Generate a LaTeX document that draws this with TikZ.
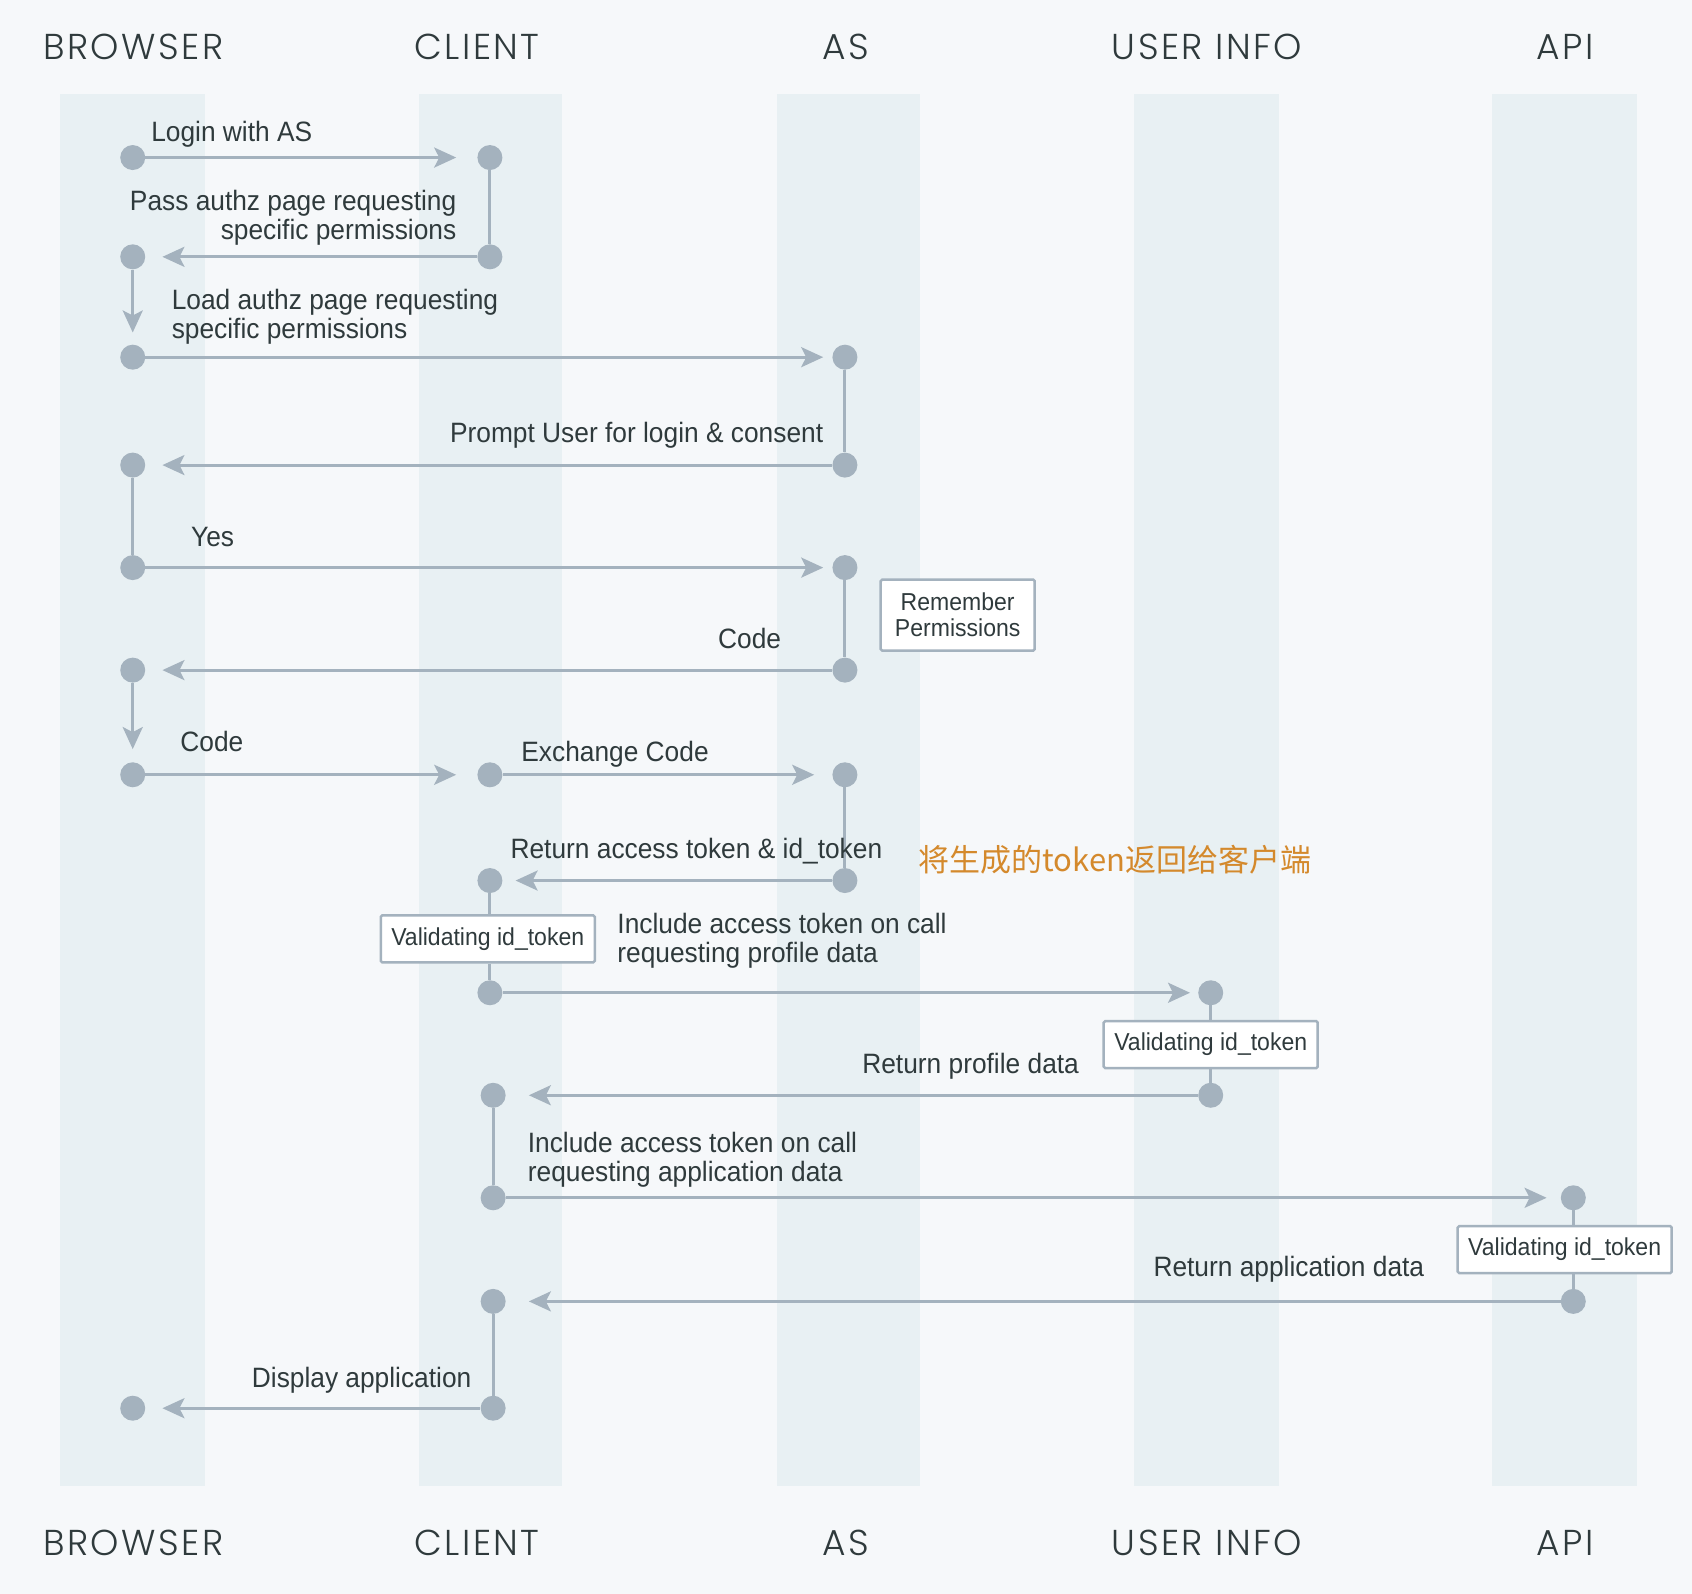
\documentclass[tikz,border=0pt]{standalone}
\usepackage{fontspec}
\setmainfont[FakeStretch=0.94]{Liberation Sans}
\newfontfamily\hdrfont[UprightFont=* Light,LetterSpace=7]{Poppins}
\newfontfamily\cjkfont{Noto Sans CJK SC}
\usetikzlibrary{arrows.meta}
\definecolor{bgc}{HTML}{F6F8FA}
\definecolor{lanec}{HTML}{E8F0F3}
\definecolor{lnc}{HTML}{A4B2BE}
\definecolor{txc}{HTML}{2F3A3C}
\definecolor{orc}{HTML}{D4892C}
\begin{document}
\begin{tikzpicture}[x=1.0791pt,y=-1.0791pt,
  dot/.style={circle,fill=lnc,draw=none,minimum size=25pt,inner sep=0pt},
  conn/.style={draw=lnc,line width=3pt},
  arr/.style={conn,-{Stealth[length=22pt,width=20pt,inset=5pt]}},
  lbl/.style={font=\fontsize{28}{29}\selectfont,text=txc,inner sep=0pt},
  hdr/.style={font=\hdrfont\fontsize{36}{40}\selectfont,text=txc,inner sep=0pt,anchor=base},
  vbox/.style={draw=lnc,line width=2.5pt,fill=white,font=\fontsize{24.5}{26}\selectfont,text=txc,inner sep=0pt,minimum width=214pt,minimum height=47pt,align=center,rounded corners=1.5pt},
  cjk/.style={font=\cjkfont\fontsize{31}{34}\selectfont,text=orc,inner sep=0pt}]
\fill[bgc] (0,0) rectangle (1568,1477);
\useasboundingbox (0,0) rectangle (1568,1477);
% lanes
\fill[lanec] (56,87) rectangle (190,1377);
\fill[lanec] (388,87) rectangle (521,1377);
\fill[lanec] (720,87) rectangle (853,1377);
\fill[lanec] (1051,87) rectangle (1185,1377);
\fill[lanec] (1383,87) rectangle (1517,1377);
% headers
\node[hdr] (h1) at (123.5,55.5) {BROWSER};
\node[hdr] (h2) at (442,55.5) {CLIENT};
\node[hdr] (h3) at (784,55.5) {AS};
\node[hdr] (h4) at (1118.5,55.5) {USER INFO};
\node[hdr] (h5) at (1450.5,55.5) {API};
\node[hdr] (f1) at (123.5,1441.5) {BROWSER};
\node[hdr] (f2) at (442,1441.5) {CLIENT};
\node[hdr] (f3) at (784,1441.5) {AS};
\node[hdr] (f4) at (1118.5,1441.5) {USER INFO};
\node[hdr] (f5) at (1450.5,1441.5) {API};
% boxes
\node[vbox,minimum width=154pt,minimum height=71pt] (rem) at (887.5,570) {Remember\\Permissions};
\node[vbox] (vc) at (452,870) {Validating id\_token};
\node[vbox] (vu) at (1122,968) {Validating id\_token};
\node[vbox] (va) at (1450,1158) {Validating id\_token};
% dots
\node[dot] (b1) at (123,146) {};
\node[dot] (c1) at (454,146) {};
\node[dot] (c2) at (454,238) {};
\node[dot] (b2) at (123,238) {};
\node[dot] (b3) at (123,331) {};
\node[dot] (as1) at (783,331) {};
\node[dot] (as2) at (783,431) {};
\node[dot] (b4) at (123,431) {};
\node[dot] (b5) at (123,526) {};
\node[dot] (as3) at (783,526) {};
\node[dot] (as4) at (783,621) {};
\node[dot] (b6) at (123,621) {};
\node[dot] (b7) at (123,718) {};
\node[dot] (c3) at (454,718) {};
\node[dot] (as5) at (783,718) {};
\node[dot] (as6) at (783,816) {};
\node[dot] (c4) at (454,816) {};
\node[dot] (c5) at (454,920) {};
\node[dot] (ui1) at (1122,920) {};
\node[dot] (ui2) at (1122,1015) {};
\node[dot] (c6) at (457,1015) {};
\node[dot] (c7) at (457,1110) {};
\node[dot] (api1) at (1458,1110) {};
\node[dot] (api2) at (1458,1206) {};
\node[dot] (c8) at (457,1206) {};
\node[dot] (c9) at (457,1305) {};
\node[dot] (b8) at (123,1305) {};
% vertical links
\draw[conn] (c1) -- (c2);
\draw[conn] (as1) -- (as2);
\draw[conn] (b4) -- (b5);
\draw[conn] (as3) -- (as4);
\draw[conn] (as5) -- (as6);
\draw[conn] (c4) -- (c4 |- vc.north);
\draw[conn] (c5 |- vc.south) -- (c5);
\draw[conn] (ui1) -- (vu);
\draw[conn] (vu) -- (ui2);
\draw[conn] (c6) -- (c7);
\draw[conn] (api1) -- (api1 |- va.north);
\draw[conn] (api2 |- va.south) -- (api2);
\draw[conn] (c8) -- (c9);
% arrows
\draw[arr,shorten >=21pt] (b1) -- (c1);
\draw[arr,shorten >=17pt] (c2) -- (b2);
\draw[arr,shorten >=12pt] (b2) -- (b3);
\draw[arr,shorten >=9pt] (b3) -- (as1);
\draw[arr,shorten >=17pt] (as2) -- (b4);
\draw[arr,shorten >=9pt] (b5) -- (as3);
\draw[arr,shorten >=17pt] (as4) -- (b6);
\draw[arr,shorten >=13pt] (b6) -- (b7);
\draw[arr,shorten >=21pt] (b7) -- (c3);
\draw[arr,shorten >=18pt] (c3) -- (as5);
\draw[arr,shorten >=13pt] (as6) -- (c4);
\draw[arr,shorten >=8pt] (c5) -- (ui1);
\draw[arr,shorten >=23pt] (ui2) -- (c6);
\draw[arr,shorten >=14pt] (c7) -- (api1);
\draw[arr,shorten >=23pt] (api2) -- (c8);
\draw[arr,shorten >=17pt] (c9) -- (b8);
% labels
\node[lbl,anchor=base west] (l1) at (140,131) {Login with AS};
\node[lbl,anchor=east,align=right] (l2) at (423,202) {Pass authz page requesting\\specific permissions};
\node[lbl,anchor=west,align=left] (l3) at (159,294) {Load authz page requesting\\specific permissions};
\node[lbl,anchor=base east] (l4) at (763,410) {Prompt User for login \& consent};
\node[lbl,anchor=base west] (l5) at (177,506) {Yes};
\node[lbl,anchor=base east] (l6) at (724,601) {Code};
\node[lbl,anchor=base west] (l7) at (167,696) {Code};
\node[lbl,anchor=base west] (l8) at (483,706) {Exchange Code};
\node[lbl,anchor=base west] (l9) at (473,796) {Return access token \& id\_token};
\node[cjk,anchor=west] (zh) at (851,797) {将生成的token返回给客户端};
\node[lbl,anchor=west,align=left] (l10) at (572,872) {Include access token on call\\requesting profile data};
\node[lbl,anchor=base east] (l11) at (1000,995) {Return profile data};
\node[lbl,anchor=west,align=left] (l12) at (489,1075) {Include access token on call\\requesting application data};
\node[lbl,anchor=base east] (l13) at (1320,1183) {Return application data};
\node[lbl,anchor=base east] (l14) at (437,1286) {Display application};
\end{tikzpicture}
\end{document}
